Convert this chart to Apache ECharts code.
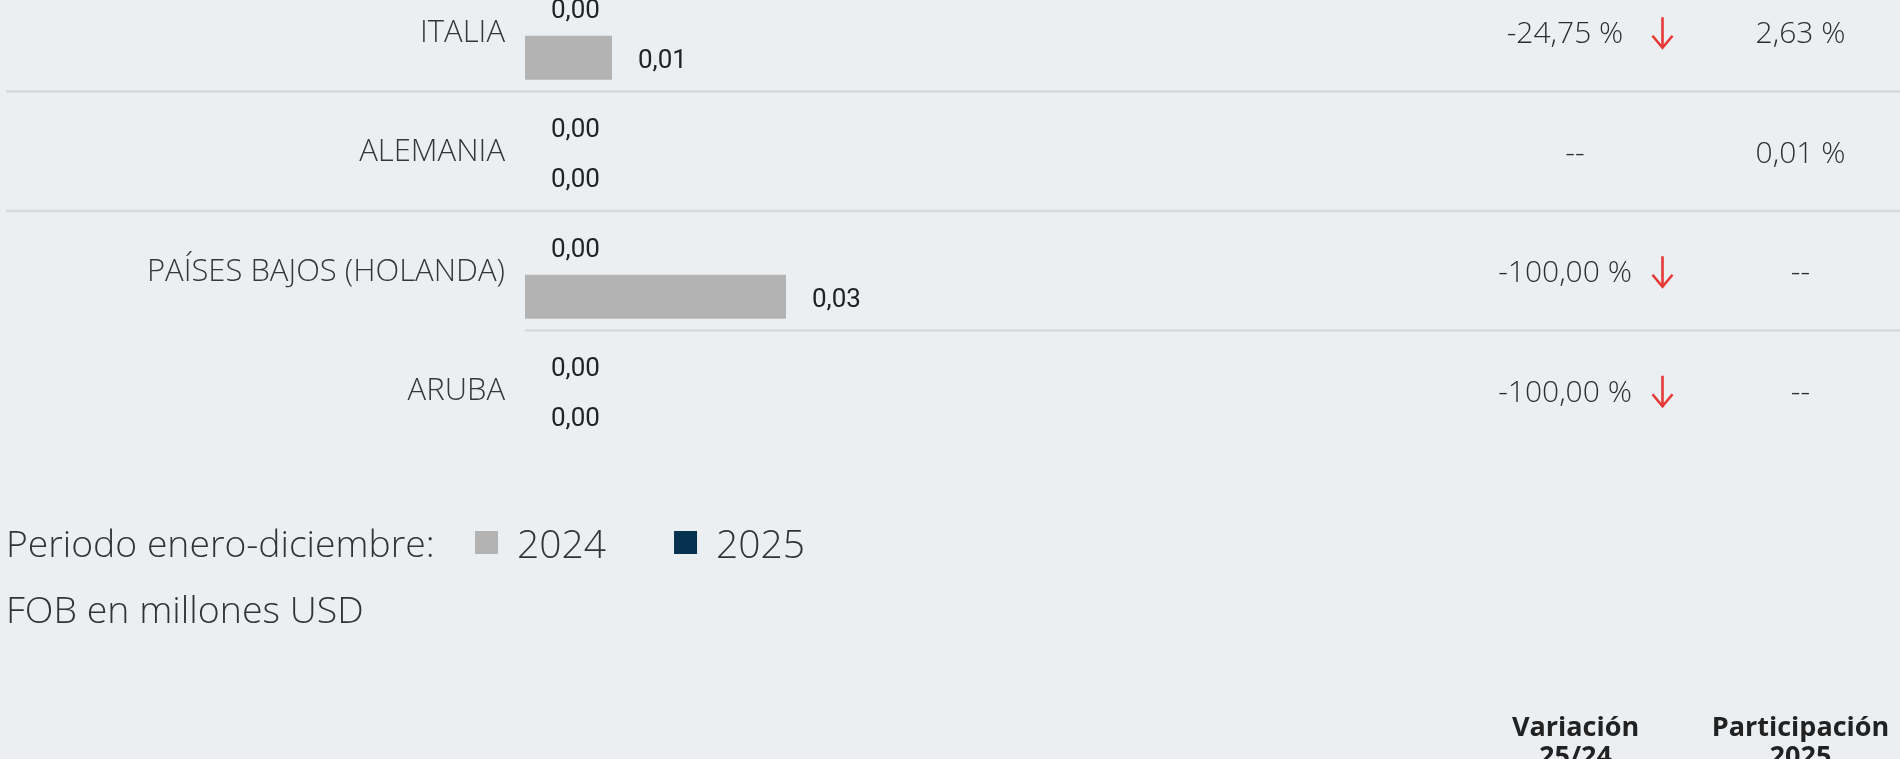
<!DOCTYPE html>
<html>
<head>
<meta charset="utf-8">
<script src="https://cdn.jsdelivr.net/npm/echarts@6.0.0/dist/echarts.min.js"></script>
<style>
html,body{margin:0;padding:0;background:#eceff2;}
#c{width:1900px;height:759px;}
</style>
</head>
<body>
<div id="c"></div>
<script>
const categories = ['ITALIA', 'ALEMANIA', 'PAÍSES BAJOS (HOLANDA)', 'ARUBA'];
const values2025 = [0, 0, 0, 0];
const values2024 = [0.01, 0, 0.03, 0];
const variacion = ['-24,75 %', '--', '-100,00 %', '-100,00 %'];
const variacionDown = [true, false, true, true];
const participacion = ['2,63 %', '0,01 %', '--', '--'];
const legendNames = ['2024', '2025'];
const legendTitle = 'Periodo enero-diciembre:';
const unitNote = 'FOB en millones USD';
const headerVar = 'Variación\n25/24';
const headerPart = 'Participación\n2025';

const FONT = "'Open Sans', 'Noto Sans', sans-serif";
const chart = echarts.init(document.getElementById('c'), null, {renderer: 'canvas'});

const fmt = p => Number(p.value).toFixed(2).replace('.', ',');
const barLabel = {
  show: true, position: 'right', distance: 26, formatter: fmt, offset: [0, 3.5],
  fontFamily: "Roboto, 'Open Sans', sans-serif", fontSize: 26, color: '#222'
};

chart.setOption({
  backgroundColor: '#eceff2',
  animation: false,
  grid: {left: 525, top: -27, width: 870, height: 478, containLabel: false, outerBoundsMode: 'none'},
  xAxis: {type: 'value', min: 0, max: 0.1, show: false},
  yAxis: {
    type: 'category', data: categories, inverse: true,
    axisLine: {show: false}, axisTick: {show: false}, splitLine: {show: false},
    axisLabel: {margin: 20, fontFamily: FONT, fontWeight: 300, fontSize: 31, color: '#363636', padding: [4, 0, 0, 0]}
  },
  legend: {
    data: legendNames, left: 475, top: 518.5, padding: 0, icon: 'rect', itemWidth: 23, itemHeight: 23, itemGap: 68,
    formatter: name => '{s|}{t|' + name + '}',
    textStyle: {
      fontFamily: FONT, fontWeight: 300, fontSize: 39, color: '#333',
      rich: {
        s: {width: 14, height: 48, lineHeight: 48},
        t: {fontFamily: FONT, fontWeight: 300, fontSize: 39, color: '#333', lineHeight: 39, verticalAlign: 'bottom'}
      }
    },
    selectedMode: false
  },
  series: [
    {name: '2025', type: 'bar', data: values2025, barWidth: 44, barGap: '13.6%',
     itemStyle: {color: '#07324f'}, label: barLabel},
    {name: '2024', type: 'bar', data: values2024, barWidth: 44,
     itemStyle: {color: '#b3b3b3'}, label: barLabel}
  ]
});

// positions from the axes
const centers = categories.map(c => chart.convertToPixel({yAxisIndex: 0}, c));
const x0 = chart.convertToPixel({xAxisIndex: 0}, 0);
const graphics = [];
for (let i = 0; i < centers.length - 1; i++) {
  const y = (centers[i] + centers[i + 1]) / 2 - 1;
  const xs = i === centers.length - 2 ? x0 : 6;
  graphics.push({type: 'line', shape: {x1: xs, y1: y, x2: 1900, y2: y},
    style: {stroke: '#d6dadd', lineWidth: 2.5}, silent: true});
}
centers.forEach((cy, i) => {
  const down = variacionDown[i];
  graphics.push({type: 'text', x: down ? 1565 : 1575, y: cy + 2,
    style: {text: variacion[i], fontFamily: FONT, fontWeight: 300, fontSize: 30,
      fill: '#2e2e2e', align: 'center', verticalAlign: 'middle'}});
  if (down) {
    const ax = 1662.5;
    graphics.push({type: 'polyline', shape: {points: [[ax, cy - 15.5], [ax, cy + 15]]},
      style: {stroke: '#e53935', lineWidth: 2.6, fill: null}});
    graphics.push({type: 'polyline', shape: {points: [[ax - 10, cy + 3], [ax, cy + 15], [ax + 10, cy + 3]]},
      style: {stroke: '#e53935', lineWidth: 2.6, fill: null, lineJoin: 'miter'}});
  }
  graphics.push({type: 'text', x: 1800.5, y: cy + 2,
    style: {text: participacion[i], fontFamily: FONT, fontWeight: 300, fontSize: 30,
      fill: '#2e2e2e', align: 'center', verticalAlign: 'middle'}});
});
graphics.push({type: 'text', x: 6, y: 546,
  style: {text: legendTitle, fontFamily: FONT, fontWeight: 300, fontSize: 37.3, fill: '#333', align: 'left', verticalAlign: 'middle'}});
graphics.push({type: 'text', x: 6, y: 612,
  style: {text: unitNote, fontFamily: FONT, fontWeight: 300, fontSize: 37.5, fill: '#333', align: 'left', verticalAlign: 'middle'}});
graphics.push({type: 'text', x: 1575.5, y: 713.5,
  style: {text: headerVar, fontFamily: FONT, fontWeight: 'bold', fontSize: 27, lineHeight: 29, fill: '#222', align: 'center', verticalAlign: 'top'}});
graphics.push({type: 'text', x: 1800.5, y: 713.5,
  style: {text: headerPart, fontFamily: FONT, fontWeight: 'bold', fontSize: 27, lineHeight: 29, fill: '#222', align: 'center', verticalAlign: 'top'}});

chart.setOption({graphic: {elements: graphics}});
</script>
</body>
</html>
